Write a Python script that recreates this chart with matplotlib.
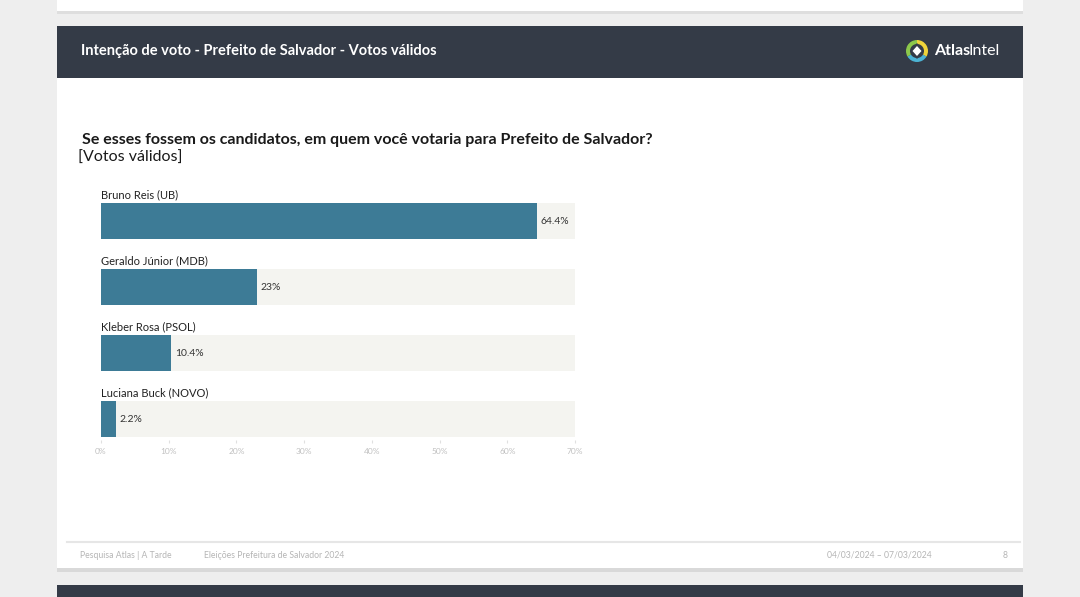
import matplotlib.pyplot as plt
from matplotlib.patches import Rectangle, Wedge, Polygon

plt.rcParams['font.family'] = ['Lato', 'DejaVu Sans']

candidatos = ["Bruno Reis (UB)", "Geraldo Júnior (MDB)", "Kleber Rosa (PSOL)", "Luciana Buck (NOVO)"]
votos = [64.4, 23, 10.4, 2.2]
rotulos = ["64.4%", "23%", "10.4%", "2.2%"]
ticks = [0, 10, 20, 30, 40, 50, 60, 70]

W, H = 1080, 597
fig = plt.figure(figsize=(W / 100, H / 100), dpi=100)
fig.patch.set_facecolor("#eeeeee")

# fundo da pagina (coordenadas em pixels)
bg = fig.add_axes([0, 0, 1, 1])
bg.set_xlim(0, W)
bg.set_ylim(H, 0)
bg.axis("off")
bg.add_patch(Rectangle((57, 11), 966, 3, color="#dedede", lw=0))
bg.add_patch(Rectangle((57, 0), 966, 11, color="white", lw=0))
bg.add_patch(Rectangle((57, 568), 966, 4, color="#d9d9d9", lw=0))
bg.add_patch(Rectangle((57, 26), 966, 542, color="white", lw=0))
bg.add_patch(Rectangle((57, 26), 966, 52, color="#343b47", lw=0))
bg.add_patch(Rectangle((57, 585), 966, 12, color="#343b47", lw=0))
bg.plot([67, 1020], [542, 542], color="#e6e6e6", lw=1.5)

# logo
cx, cy = 917, 51
bg.add_patch(Wedge((cx, cy), 11, 30, 150, width=4, color="#4cb3d4", lw=0))
bg.add_patch(Wedge((cx, cy), 11, 150, 270, width=4, color="#8cc84b", lw=0))
bg.add_patch(Wedge((cx, cy), 11, 270, 390, width=4, color="#f0d43a", lw=0))
bg.add_patch(Polygon([(cx, cy - 8), (cx + 7, cy), (cx, cy + 8), (cx - 7, cy)], color="#343b47", lw=0))
bg.add_patch(Polygon([(cx, cy - 5), (cx + 4.5, cy), (cx, cy + 5), (cx - 4.5, cy)], color="white", lw=0))

def px(x, y):
    return x / W, 1 - y / H

fig.text(*px(81, 51), "Intenção de voto - Prefeito de Salvador - Votos válidos",
         color="white", fontsize=10.5, fontweight="bold", va="center", ha="left")
fig.text(*px(934, 51), "Atlas", color="white", fontsize=11.5, fontweight="bold", va="center")
fig.text(*px(968.5, 51), "Intel", color="white", fontsize=11.5, va="center")

fig.text(*px(82, 140), "Se esses fossem os candidatos, em quem você votaria para Prefeito de Salvador?",
         color="#1a1a1a", fontsize=11.5, fontweight="bold", va="center")
fig.text(*px(78, 158), "[Votos válidos]", color="#1a1a1a", fontsize=11.5, va="center")

# rodape
cinza = "#b5b5b5"
fig.text(*px(80, 555), "Pesquisa Atlas | A Tarde", color=cinza, fontsize=6.2, va="center")
fig.text(*px(204, 555), "Eleições Prefeitura de Salvador 2024", color=cinza, fontsize=6.2, va="center")
fig.text(*px(827, 555), "04/03/2024 – 07/03/2024", color=cinza, fontsize=6.2, va="center")
fig.text(*px(1003, 555), "8", color=cinza, fontsize=6.2, va="center")

# grafico de barras
top, bottom = 188, 440
ax = fig.add_axes([101 / W, 1 - bottom / H, 474 / W, (bottom - top) / H])
ax.set_facecolor("none")
y = list(range(len(candidatos)))
ax.barh(y, [70] * len(y), height=0.545, color="#f4f4f0", lw=0)
ax.barh(y, votos, height=0.545, color="#3d7b96", lw=0)
for i, (nome, v, r) in enumerate(zip(candidatos, votos, rotulos)):
    ax.text(0, i - 0.31, nome, fontsize=8, color="#222222", va="bottom", ha="left")
    ax.text(v + 0.5, i, r, fontsize=7.5, color="#333333", va="center", ha="left")
ax.set_xlim(0, 70)
ax.set_ylim(-0.5 + (bottom - top) / 66, -0.5)
ax.set_xticks(ticks)
ax.set_xticklabels([f"{t}%" for t in ticks], fontsize=6, color="#c0c0c0")
ax.set_yticks([])
ax.tick_params(axis="x", length=2, color="#e0e0e0", pad=4)
for s in ax.spines.values():
    s.set_visible(False)

fig.savefig("out.png", dpi=100, facecolor=fig.get_facecolor())
